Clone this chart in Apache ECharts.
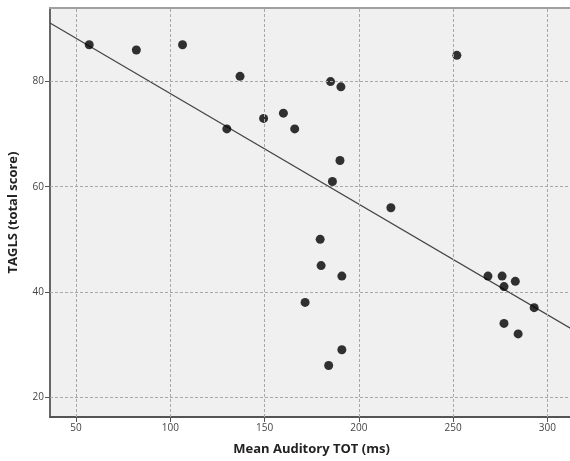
<!DOCTYPE html>
<html><head><meta charset="utf-8">
<script src="https://cdn.jsdelivr.net/npm/echarts@6/dist/echarts.min.js"></script>
<style>html,body{margin:0;padding:0;background:#fff}#c{width:570px;height:461px}</style>
</head><body><div id="c"></div>
<script>
var xLabel = 'Mean Auditory TOT (ms)';
var yLabel = 'TAGLS (total score)';
var xTicks = [50, 100, 150, 200, 250, 300];
var yTicks = [20, 40, 60, 80];
var totMs = [57, 82, 106.5, 137, 185, 190.5, 149.5, 160, 166, 130, 190, 186, 217, 179.5, 180, 191, 171.5, 191, 184, 252, 268.5, 276, 283, 277, 293, 277, 284.5];
var tagls = [87, 86, 87, 81, 80, 79, 73, 74, 71, 71, 65, 61, 56, 50, 45, 43, 38, 29, 26, 85, 43, 43, 42, 41, 37, 34, 32];
var xRange = [36.2, 313.6];
var yRange = [16.2, 94];

// least-squares fit line computed from the data
var n = totMs.length, sx = 0, sy = 0, sxx = 0, sxy = 0;
for (var i = 0; i < n; i++) { sx += totMs[i]; sy += tagls[i]; sxx += totMs[i]*totMs[i]; sxy += totMs[i]*tagls[i]; }
var slope = (n*sxy - sx*sy) / (n*sxx - sx*sx);
var icpt = (sy - slope*sx) / n;
var fit = xRange.map(function (x) { return [x, icpt + slope*x]; });

var pts = totMs.map(function (x, i) { return [x, tagls[i]]; });
var chart = echarts.init(document.getElementById('c'));
chart.setOption({
  animation: false,
  grid: { left: 50, top: 8, right: -3, bottom: 44, outerBoundsMode: 'none', containLabel: false, show: true, backgroundColor: '#f0f0f0', borderWidth: 0 },
  xAxis: [{
    type: 'value', min: xRange[0], max: xRange[1],
    name: xLabel, nameLocation: 'middle', nameGap: 26,
    nameTextStyle: { fontFamily: 'Open Sans', fontWeight: 'bold', fontSize: 13, color: '#222' },
    axisLine: { show: true, onZero: false, lineStyle: { color: '#555', width: 2 } },
    axisTick: { show: true, customValues: xTicks, length: 5, lineStyle: { color: '#555' } },
    axisLabel: { customValues: xTicks, fontFamily: 'Open Sans', fontSize: 10, color: '#444', margin: 6 },
    splitLine: { show: false }
  }, {
    type: 'value', position: 'top', min: xRange[0], max: xRange[1],
    axisLine: { show: true, onZero: false, lineStyle: { color: '#a0a0a0', width: 2 } },
    axisTick: { show: false }, axisLabel: { show: false }, splitLine: { show: false }
  }],
  yAxis: {
    type: 'value', min: yRange[0], max: yRange[1],
    name: yLabel, nameLocation: 'middle', nameGap: 30, nameRotate: 90,
    nameTextStyle: { fontFamily: 'Open Sans', fontWeight: 'bold', fontSize: 13, color: '#222' },
    axisLine: { show: true, onZero: false, lineStyle: { color: '#666', width: 2 } },
    axisTick: { show: true, customValues: yTicks, length: 5, lineStyle: { color: '#555' } },
    axisLabel: { customValues: yTicks, fontFamily: 'Open Sans', fontSize: 10, color: '#444', margin: 6 },
    splitLine: { show: false }
  },
  series: [
    { type: 'line', data: fit, showSymbol: false, symbol: 'none', lineStyle: { color: '#444', width: 1.2 }, z: 3,
      markLine: { silent: true, symbol: 'none', label: { show: false }, lineStyle: { color: '#a8a8a8', type: [3, 2], width: 1 },
        data: xTicks.map(function (v) { return { xAxis: v }; }).concat(yTicks.map(function (v) { return { yAxis: v }; })) } },
    { type: 'scatter', data: pts, symbolSize: 9, itemStyle: { color: '#000' }, z: 4 }
  ]
});
</script></body></html>
